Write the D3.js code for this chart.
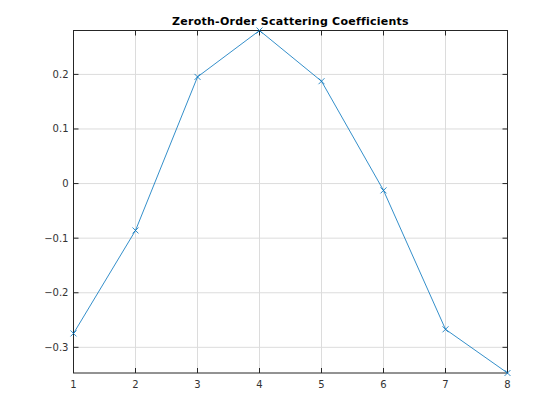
<!DOCTYPE html>
<html><head><meta charset="utf-8">
<script src="https://cdn.jsdelivr.net/npm/d3@7"></script>
<style>body{margin:0;background:#fff}svg{display:block}</style>
</head><body>
<script>
const xValues = [1, 2, 3, 4, 5, 6, 7, 8];
const yValues = [-0.2745, -0.0859, 0.1954, 0.2804, 0.1875, -0.0125, -0.2670, -0.3470];
const xTicks = [1, 2, 3, 4, 5, 6, 7, 8];
const yTicks = [-0.3, -0.2, -0.1, 0, 0.1, 0.2];
const titleText = "Zeroth-Order Scattering Coefficients";

const W = 560, H = 420;
const m = {l: 73.5, r: 52.5, t: 30.5, b: 47};
const svg = d3.select("body").append("svg").attr("width", W).attr("height", H);
const x = d3.scaleLinear().domain([1, 8]).range([m.l, W - m.r]);
const y = d3.scaleLinear().domain([d3.min(yValues), d3.max(yValues)]).range([H - m.b, m.t]);
const font = "DejaVu Sans, sans-serif";

// grid
svg.append("g").selectAll("line").data(xTicks).join("line")
  .attr("x1", d => x(d)).attr("x2", d => x(d)).attr("y1", m.t).attr("y2", H - m.b)
  .attr("stroke", "#dcdcdc").attr("stroke-width", 1);
svg.append("g").selectAll("line").data(yTicks).join("line")
  .attr("y1", d => y(d)).attr("y2", d => y(d)).attr("x1", m.l).attr("x2", W - m.r)
  .attr("stroke", "#dcdcdc").attr("stroke-width", 1);

// axes (MATLAB style inward ticks)
const tl = 5;
const ax = svg.append("g").attr("stroke", "#262626").attr("stroke-width", 1).attr("fill", "none");
ax.append("rect").attr("x", m.l).attr("y", m.t).attr("width", W - m.r - m.l).attr("height", H - m.b - m.t);
xTicks.forEach(d => {
  ax.append("line").attr("x1", x(d)).attr("x2", x(d)).attr("y1", H - m.b).attr("y2", H - m.b - tl);
  ax.append("line").attr("x1", x(d)).attr("x2", x(d)).attr("y1", m.t).attr("y2", m.t + tl);
});
yTicks.forEach(d => {
  ax.append("line").attr("y1", y(d)).attr("y2", y(d)).attr("x1", m.l).attr("x2", m.l + tl);
  ax.append("line").attr("y1", y(d)).attr("y2", y(d)).attr("x1", W - m.r).attr("x2", W - m.r - tl);
});

// tick labels
svg.append("g").selectAll("text").data(xTicks).join("text")
  .attr("x", d => x(d)).attr("y", H - m.b + 15).attr("text-anchor", "middle")
  .attr("font-family", font).attr("font-size", 10).attr("fill", "#333").text(d => d);
svg.append("g").selectAll("text").data(yTicks).join("text")
  .attr("x", m.l - 5).attr("y", d => y(d) + 3.5).attr("text-anchor", "end")
  .attr("font-family", font).attr("font-size", 10).attr("fill", "#333")
  .text(d => d === 0 ? "0" : d3.format("")(d));

// line
const pts = xValues.map((v, i) => [v, yValues[i]]);
svg.append("path").datum(pts)
  .attr("d", d3.line().x(d => x(d[0])).y(d => y(d[1])))
  .attr("fill", "none").attr("stroke", "#0072BD").attr("stroke-width", 0.8);
const s = 3;
svg.append("g").selectAll("path").data(pts).join("path")
  .attr("d", d => `M${x(d[0]) - s},${y(d[1]) - s}L${x(d[0]) + s},${y(d[1]) + s}M${x(d[0]) - s},${y(d[1]) + s}L${x(d[0]) + s},${y(d[1]) - s}`)
  .attr("stroke", "#0072BD").attr("stroke-width", 0.8).attr("fill", "none");

// title
svg.append("text").attr("x", (m.l + W - m.r) / 2).attr("y", 25).attr("text-anchor", "middle")
  .attr("font-family", font).attr("font-size", 11).attr("letter-spacing", 0.25).attr("font-weight", "bold").attr("fill", "#000")
  .text(titleText);
</script>
</body></html>
